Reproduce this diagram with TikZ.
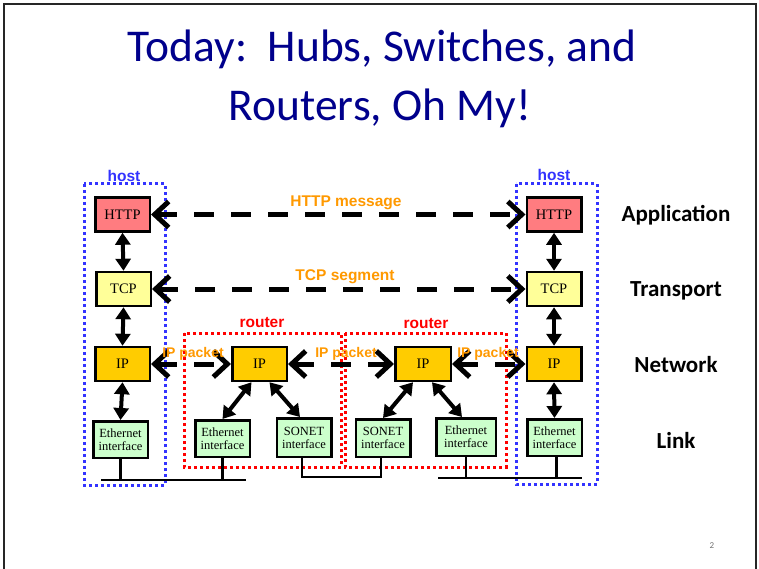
\documentclass[tikz,border=0pt]{standalone}
\usepackage{fontspec}
\setmainfont{Liberation Serif}
\newfontfamily\slidefont{Carlito}
\newfontfamily\tagfont{Liberation Sans}
\usetikzlibrary{arrows.meta}

\definecolor{titleblue}{RGB}{0,0,140}
\definecolor{hostblue}{RGB}{51,51,255}
\definecolor{routerred}{RGB}{255,0,0}
\definecolor{pktorange}{RGB}{255,153,0}
\definecolor{httpfill}{RGB}{255,124,128}
\definecolor{tcpfill}{RGB}{255,255,153}
\definecolor{ipfill}{RGB}{255,204,0}
\definecolor{ethfill}{RGB}{204,255,204}

\begin{document}
\begin{tikzpicture}[x=1pt,y=-1pt,
  protobox/.style={draw=black, line width=2.5pt, inner sep=0pt,
    font=\fontsize{14.5}{16}\selectfont, minimum width=54.5pt, minimum height=34pt},
  ifbox/.style={protobox, fill=ethfill, align=center,
    font=\fontsize{12.5}{13}\selectfont, minimum height=36.5pt},
  hostbox/.style={draw=hostblue, line width=3pt, dash pattern=on 3pt off 3pt},
  routerbox/.style={draw=routerred, line width=3pt, dash pattern=on 3pt off 3pt},
  peerarrow/.style={line width=5pt, dash pattern=on 20pt off 17pt,
    arrows={Straight Barb[length=14pt,width=26pt]-Straight Barb[length=14pt,width=26pt]}},
  stackarrow/.style={line width=4pt,
    arrows={Triangle[length=12pt,width=15pt]-Triangle[length=12pt,width=15pt]}},
  link/.style={line width=2.5pt},
  msglabel/.style={text=pktorange, font=\tagfont\bfseries\fontsize{15.5}{17}\selectfont, inner sep=0pt},
  pktlabel/.style={text=pktorange, font=\tagfont\bfseries\fontsize{14}{16}\selectfont, inner sep=0pt},
  grouplabel/.style={font=\tagfont\bfseries\fontsize{15.5}{17}\selectfont, inner sep=0pt},
  layerlabel/.style={font=\slidefont\bfseries\fontsize{23}{26}\selectfont, inner sep=0pt},
  titleline/.style={anchor=base, text=titleblue, font=\slidefont\fontsize{45.5}{54}\selectfont, inner sep=0pt}
]
\useasboundingbox (0,0) rectangle (759,569);
\clip (0,0) rectangle (759,569);
\fill[white] (0,0) rectangle (759,569);

% slide frame
\draw[line width=2.5pt, black!85] (4,600) -- (4,4) -- (756,4) -- (756,600);

% title
\node[titleline] (title1) at (382,62) {Today:\ \ Hubs, Switches, and};
\node[titleline] (title2) at (380,121) {Routers, Oh My!};

% host and router outlines
\draw[hostbox] (84,184) rectangle (165,485);
\draw[hostbox] (516,184) rectangle (597,484);
\draw[routerbox] (184,333) rectangle (341,467);
\draw[routerbox] (345,333) rectangle (506,467);
\node[grouplabel, text=hostblue] (hostL) at (124,176) {host};
\node[grouplabel, text=hostblue] (hostR) at (554,175) {host};
\node[grouplabel, text=routerred] (routerA) at (262,323) {router};
\node[grouplabel, text=routerred] (routerB) at (426,324) {router};

% left host stack
\node[protobox, fill=httpfill] (lhttp) at (122.5,214.5) {HTTP};
\node[protobox, fill=tcpfill]  (ltcp)  at (123.5,289) {TCP};
\node[protobox, fill=ipfill]   (lip)   at (122.5,364) {IP};
\node[ifbox] (leth) at (120.5,439.5) {Ethernet\\interface};

% right host stack
\node[protobox, fill=httpfill] (rhttp) at (554,214.5) {HTTP};
\node[protobox, fill=tcpfill]  (rtcp)  at (554,289) {TCP};
\node[protobox, fill=ipfill]   (rip)   at (554,364) {IP};
\node[ifbox] (reth) at (554.5,437.5) {Ethernet\\interface};

% first router
\node[protobox, fill=ipfill] (r1ip) at (259.5,364) {IP};
\node[ifbox] (r1eth) at (222.5,438.5) {Ethernet\\interface};
\node[ifbox, minimum height=38.5pt] (r1son) at (304,437.5) {SONET\\interface};

% second router
\node[protobox, fill=ipfill, minimum width=55.5pt] (r2ip) at (423,364) {IP};
\node[ifbox, minimum height=37.5pt] (r2son) at (383,438) {SONET\\interface};
\node[ifbox, minimum width=59.5pt, minimum height=37.5pt] (r2eth) at (466,437) {Ethernet\\interface};

% protocol stack arrows
\draw[stackarrow] (lhttp.south) -- (ltcp.north);
\draw[stackarrow] (ltcp.south) -- (lip.north);
\draw[stackarrow] (lip.south) -- (leth.north);
\draw[stackarrow] (rhttp.south) -- (rtcp.north);
\draw[stackarrow] (rtcp.south) -- (rip.north);
\draw[stackarrow] (rip.south) -- (reth.north);
\draw[stackarrow] ([xshift=-8pt]r1ip.south) -- (r1eth.north);
\draw[stackarrow] ([xshift=10pt]r1ip.south) -- ([xshift=-4pt]r1son.north);
\draw[stackarrow] ([xshift=-10pt]r2ip.south) -- (r2son.north);
\draw[stackarrow] ([xshift=9pt]r2ip.south) -- ([xshift=-4pt]r2eth.north);

% peer-to-peer exchanges
\draw[peerarrow] (lhttp) -- (rhttp);
\draw[peerarrow] (ltcp) -- (rtcp);
\draw[peerarrow] (lip) -- (r1ip);
\draw[peerarrow] (r1ip) -- (r2ip);
\draw[peerarrow] (r2ip) -- (rip);

\node[msglabel] (httpmsg) at (346,203) {HTTP message};
\node[msglabel] (tcpseg) at (345,277) {TCP segment};
\node[pktlabel] (pkt1) at (193,354) {IP packet};
\node[pktlabel] (pkt2) at (346,354) {IP packet};
\node[pktlabel] (pkt3) at (488,354) {IP packet};

% physical links
\coordinate (busAw) at (101,480);
\coordinate (busAe) at (246,480);
\coordinate (busCw) at (438,478);
\coordinate (busCe) at (582,478);
\draw[link] (busAw) -- (busAe);
\draw[link] (leth.south) -- (leth.south |- busAw);
\draw[link] (r1eth.south) -- (r1eth.south |- busAw);
\draw[link] ([xshift=-2pt]r1son.south) -- ++(0,19) -| ([xshift=-2pt]r2son.south);
\draw[link] (busCw) -- (busCe);
\draw[link] (r2eth.south) -- (r2eth.south |- busCw);
\draw[link] ([xshift=2pt]reth.south) -- ([xshift=2pt]reth.south |- busCw);

% layer names
\node[layerlabel] (appl) at (676,215) {Application};
\node[layerlabel] (trans) at (676,291) {Transport};
\node[layerlabel] (netw) at (676,365) {Network};
\node[layerlabel] (lnk) at (676,440) {Link};

% slide number
\node[font=\slidefont\fontsize{9}{10}\selectfont, text=black!55] (pageno) at (712,546) {2};
\end{tikzpicture}
\end{document}
